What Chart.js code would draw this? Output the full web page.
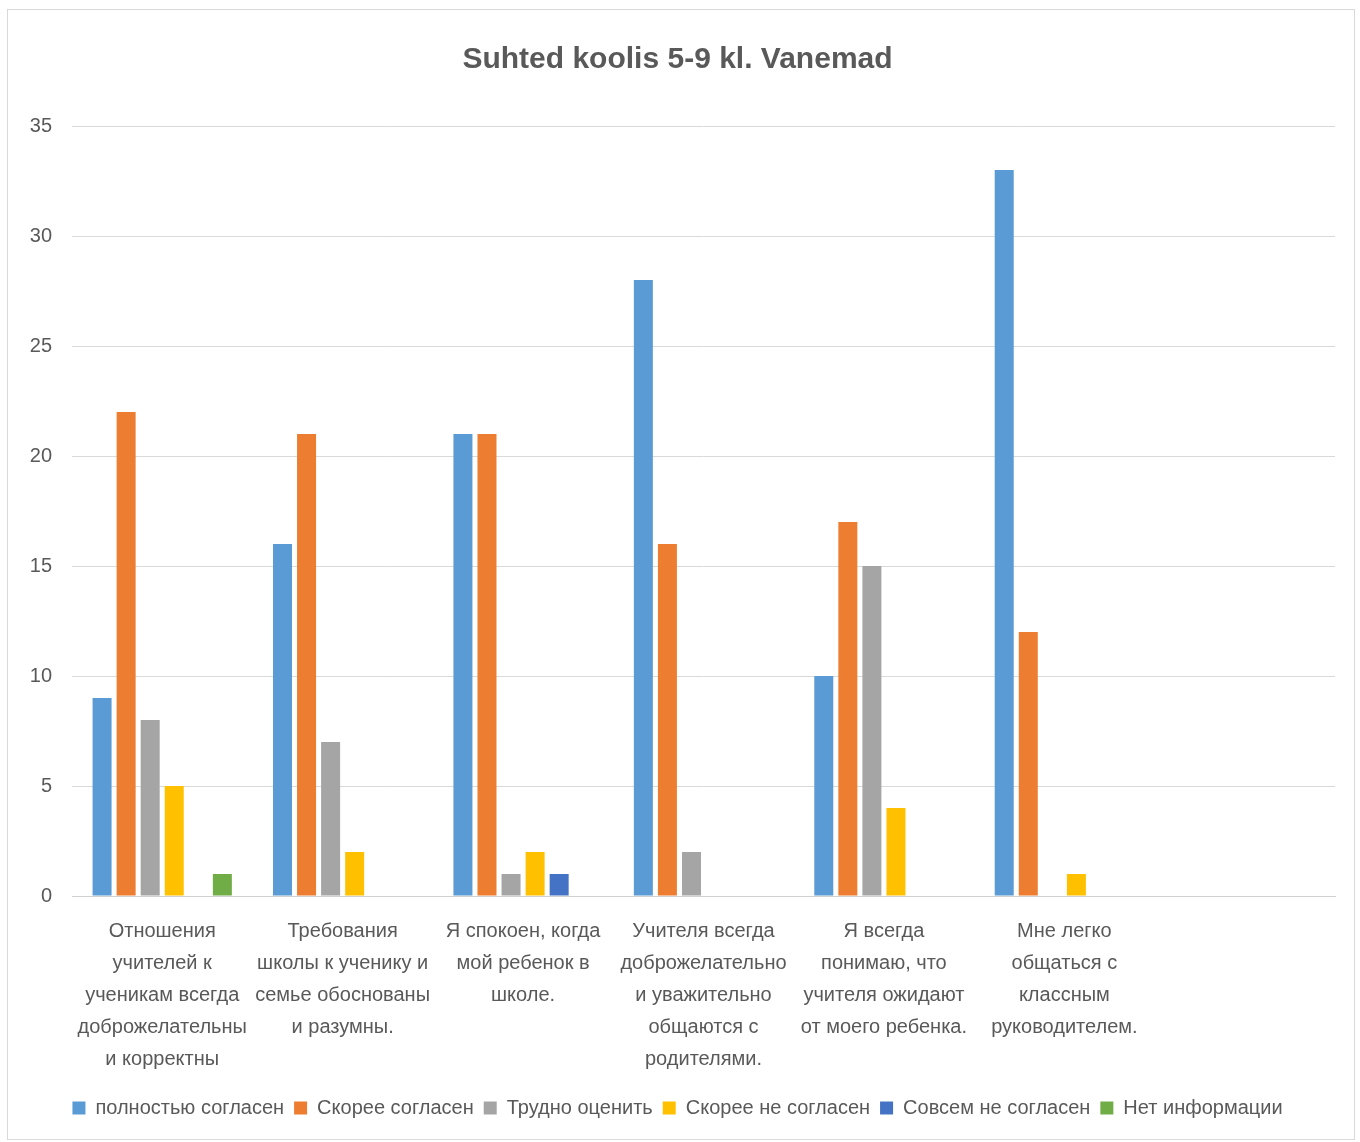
<!DOCTYPE html>
<html>
<head>
<meta charset="utf-8">
<script src="https://cdn.jsdelivr.net/npm/chart.js@4.4.0/dist/chart.umd.min.js"></script>
<style>
  html, body { margin: 0; padding: 0; background: #fff; }
  #frame { position: absolute; left: 7px; top: 9px; width: 1348px; height: 1131px; border: 1px solid #d9d9d9; box-sizing: border-box; }
  #wrap { position: absolute; left: 0; top: 0; width: 1360px; height: 1142px; }
</style>
</head>
<body>
<div id="frame"></div>
<div id="wrap"><canvas id="chart" width="1360" height="1142"></canvas></div>
<script>
const categories = [
  ['Отношения', 'учителей к', 'ученикам всегда', 'доброжелательны', 'и корректны'],
  ['Требования', 'школы к ученику и', 'семье обоснованы', 'и разумны.'],
  ['Я спокоен, когда', 'мой ребенок в', 'школе.'],
  ['Учителя всегда', 'доброжелательно', 'и уважительно', 'общаются с', 'родителями.'],
  ['Я всегда', 'понимаю, что', 'учителя ожидают', 'от моего ребенка.'],
  ['Мне легко', 'общаться с', 'классным', 'руководителем.'],
  ''
];

const seriesNames = ['полностью согласен', 'Скорее согласен', 'Трудно оценить', 'Скорее не согласен', 'Совсем не согласен', 'Нет информации'];
const fullyAgree = [9, 16, 21, 28, 10, 33, null];
const ratherAgree = [22, 21, 21, 16, 17, 12, null];
const hardToSay = [8, 7, 1, 2, 15, 0, null];
const ratherDisagree = [5, 2, 2, 0, 4, 1, null];
const fullyDisagree = [0, 0, 1, 0, 0, 0, null];
const noInfo = [1, 0, 0, 0, 0, 0, null];
const colors = ['#5B9BD5', '#ED7D31', '#A5A5A5', '#FFC000', '#4472C4', '#70AD47'];

const series = [fullyAgree, ratherAgree, hardToSay, ratherDisagree, fullyDisagree, noInfo];
const txt = '#595959';
const font = 'Liberation Sans';

new Chart(document.getElementById('chart'), {
  type: 'bar',
  data: {
    labels: categories,
    datasets: series.map((d, i) => ({
      label: seriesNames[i],
      data: d,
      backgroundColor: colors[i],
      borderWidth: 0,
      categoryPercentage: 0.8,
      barPercentage: 0.79
    }))
  },
  options: {
    responsive: false,
    animation: false,
    layout: { padding: { left: 20, right: 25, top: 20, bottom: 14 } },
    scales: {
      x: {
        grid: { display: false, drawTicks: false },
        border: { color: '#d0d0d0', width: 1 },
        ticks: {
          autoSkip: false, maxRotation: 0, minRotation: 0,
          color: txt, padding: 19,
          font: { family: font, size: 20, lineHeight: 1.6 }
        },
        afterFit: s => { s.height = 192; }
      },
      y: {
        min: 0, max: 35,
        grid: { color: '#d9d9d9', drawTicks: false },
        border: { display: false },
        ticks: { stepSize: 5, color: txt, padding: 20, font: { family: font, size: 20 } },
        afterFit: s => { s.width = 52; }
      }
    },
    plugins: {
      title: {
        display: true,
        text: 'Suhted koolis 5-9 kl. Vanemad',
        color: txt,
        font: { family: font, size: 30, weight: 'bold' },
        padding: { top: 22, bottom: 48 }
      },
      legend: {
        position: 'bottom',
        labels: { color: txt, boxWidth: 13, boxHeight: 13, padding: 10, font: { family: font, size: 20 } }
      },
      tooltip: { enabled: false }
    }
  }
});
</script>
</body>
</html>
